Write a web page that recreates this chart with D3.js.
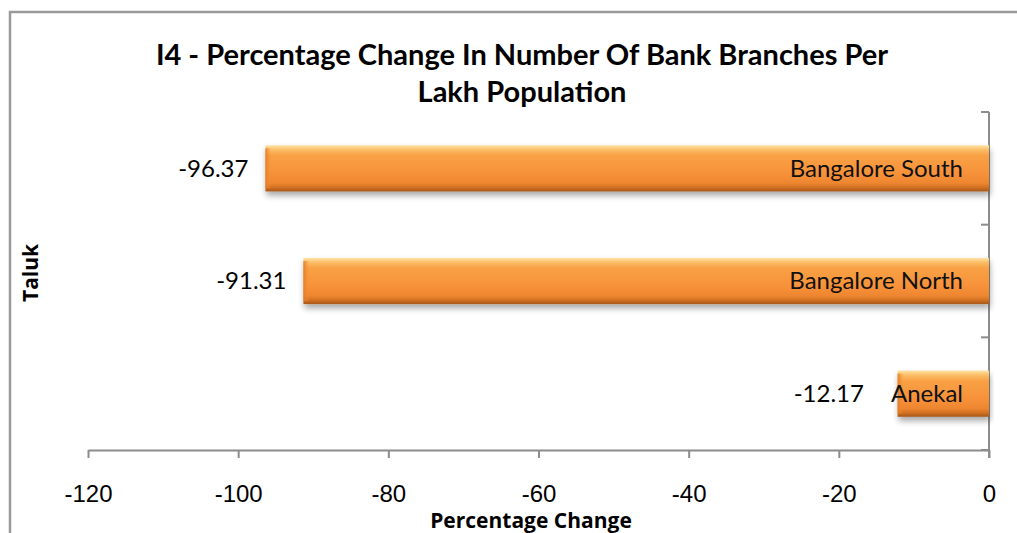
<!DOCTYPE html>
<html>
<head>
<meta charset="utf-8">
<script src="https://cdn.jsdelivr.net/npm/d3@7"></script>
<style>
  body { margin: 0; background: #fff; }
  svg { display: block; font-family: Lato, "Open Sans", sans-serif; }
</style>
</head>
<body>
<div id="chart"></div>
<script>
var taluks = ["Bangalore South", "Bangalore North", "Anekal"]
var changes = [-96.37, -91.31, -12.17]
var xTicks = [-120, -100, -80, -60, -40, -20, 0]

var width = 1017, height = 533
var plot = {left: 88, right: 989, top: 112, bottom: 450}

var svg = d3.select("#chart").append("svg")
  .attr("width", width)
  .attr("height", height)

var defs = svg.append("defs")

var grad = defs.append("linearGradient")
  .attr("id", "barGrad")
  .attr("x1", 0).attr("y1", 0).attr("x2", 0).attr("y2", 1)
grad.selectAll("stop")
  .data([
    ["0%", "#fde3a6"], ["10%", "#fbbd66"], ["22%", "#f9a145"],
    ["60%", "#f7923a"], ["82%", "#ee8630"], ["92%", "#cf6f22"], ["100%", "#a65718"]
  ])
  .enter().append("stop")
  .attr("offset", d => d[0])
  .attr("stop-color", d => d[1])

var side = defs.append("linearGradient")
  .attr("id", "sideGrad")
  .attr("x1", 0).attr("y1", 0).attr("x2", 1).attr("y2", 0)
side.selectAll("stop")
  .data([["0%", "#e07a25", 0.9], ["100%", "#f7923a", 0]])
  .enter().append("stop")
  .attr("offset", d => d[0])
  .attr("stop-color", d => d[1])
  .attr("stop-opacity", d => d[2])

var shadow = defs.append("filter")
  .attr("id", "shadow")
  .attr("x", "-5%").attr("y", "-20%").attr("width", "110%").attr("height", "160%")
shadow.append("feDropShadow")
  .attr("dx", 1).attr("dy", 4).attr("stdDeviation", 3)
  .attr("flood-color", "#000").attr("flood-opacity", 0.35)

// outer frame
svg.append("path")
  .attr("d", "M10,540 V12 H1030")
  .attr("fill", "none")
  .attr("stroke", "#9a9a9a")
  .attr("stroke-width", 2.5)

var x = d3.scaleLinear().domain([-120, 0]).range([plot.left, plot.right])

var y = d3.scaleBand().domain(taluks).range([plot.top, plot.bottom])
  .paddingInner(0.59).paddingOuter(0.295)

// x axis
var xAxis = svg.append("g")
  .attr("transform", "translate(0," + plot.bottom + ")")
  .call(d3.axisBottom(x).tickValues(xTicks).tickSize(8).tickSizeOuter(0).tickFormat(d3.format("d")))
xAxis.select(".domain").attr("stroke", "#8c8c8c").attr("stroke-width", 2)
xAxis.selectAll(".tick line").attr("stroke", "#8c8c8c").attr("stroke-width", 2)
xAxis.selectAll(".tick text")
  .attr("y", 35)
  .attr("font-size", 24)
  .attr("fill", "#000")
  .text(d => d < 0 ? "-" + Math.abs(d) : d)

// category axis on the right (zero line) with ticks between categories
var bounds = d3.range(taluks.length + 1).map(i => plot.top + i * y.step())
svg.append("line")
  .attr("x1", plot.right).attr("x2", plot.right)
  .attr("y1", plot.top).attr("y2", plot.bottom + 8)
  .attr("stroke", "#8c8c8c").attr("stroke-width", 2)
svg.selectAll(".ctick")
  .data(bounds)
  .enter().append("line")
  .attr("class", "ctick")
  .attr("x1", plot.right - 8).attr("x2", plot.right)
  .attr("y1", d => d).attr("y2", d => d)
  .attr("stroke", "#8c8c8c").attr("stroke-width", 2)

// bars
var bars = svg.append("g").selectAll("g")
  .data(taluks)
  .enter().append("g")

bars.append("rect")
  .attr("x", (d, i) => x(changes[i]))
  .attr("y", d => y(d))
  .attr("width", (d, i) => x(0) - x(changes[i]))
  .attr("height", y.bandwidth())
  .attr("fill", "url(#barGrad)")
  .attr("filter", "url(#shadow)")

bars.append("rect")
  .attr("x", (d, i) => x(changes[i]))
  .attr("y", d => y(d) + 3)
  .attr("width", 6)
  .attr("height", y.bandwidth() - 6)
  .attr("fill", "url(#sideGrad)")

var names = bars.append("text")
  .attr("x", plot.right - 26)
  .attr("y", d => y(d) + y.bandwidth() / 2)
  .attr("dy", "0.35em")
  .attr("text-anchor", "end")
  .attr("font-size", 24)
  .attr("fill", "#111")
  .text(d => d)

bars.append("text")
  .attr("x", function(d, i) {
    var nameLeft = names.nodes()[i].getBBox().x
    return Math.min(x(changes[i]) - 17, nameLeft - 27)
  })
  .attr("y", d => y(d) + y.bandwidth() / 2)
  .attr("dy", "0.35em")
  .attr("text-anchor", "end")
  .attr("font-size", 24)
  .attr("fill", "#000")
  .text((d, i) => changes[i].toFixed(2))

// titles
var title = svg.append("text")
  .attr("text-anchor", "middle")
  .attr("font-size", 29)
  .attr("font-weight", "bold")
  .attr("fill", "#000")
title.append("tspan").attr("x", 522).attr("y", 65)
  .text("I4 - Percentage Change In Number Of Bank Branches Per")
title.append("tspan").attr("x", 522).attr("y", 102)
  .text("Lakh Population")

svg.append("text")
  .attr("x", 531).attr("y", 528)
  .attr("text-anchor", "middle")
  .attr("font-family", "'Open Sans', sans-serif")
  .attr("font-size", 21)
  .attr("font-weight", "bold")
  .text("Percentage Change")

svg.append("text")
  .attr("transform", "translate(38,273) rotate(-90)")
  .attr("text-anchor", "middle")
  .attr("font-family", "'Open Sans', sans-serif")
  .attr("font-size", 21)
  .attr("font-weight", "bold")
  .text("Taluk")
</script>
</body>
</html>
